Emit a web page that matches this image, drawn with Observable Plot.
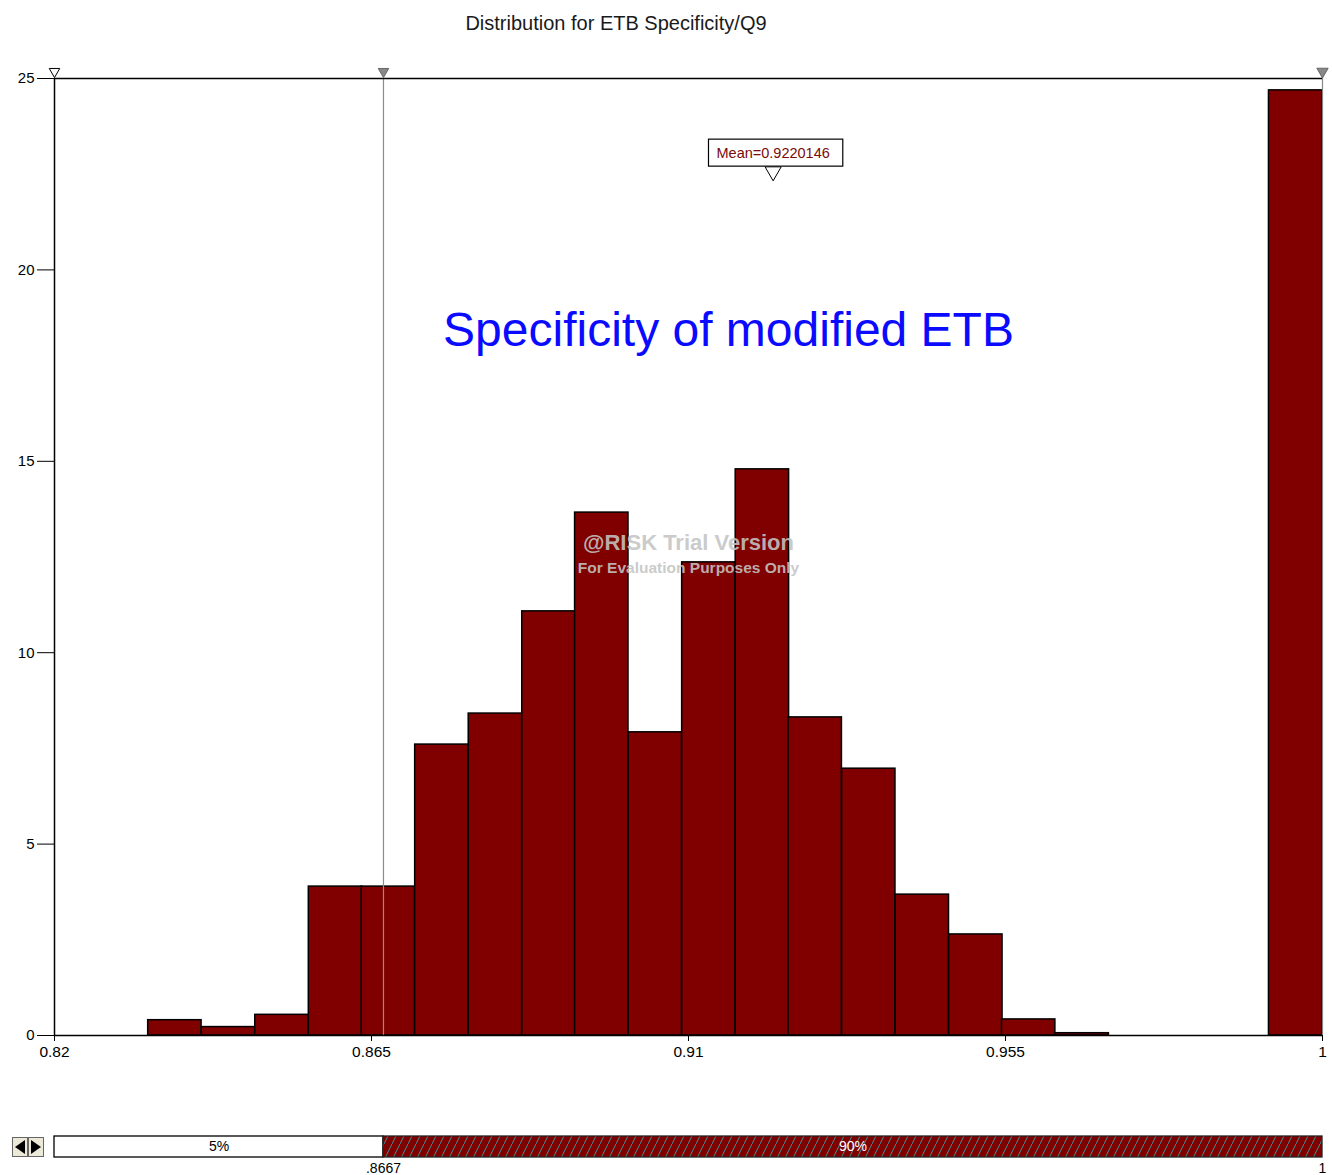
<!DOCTYPE html>
<html>
<head>
<meta charset="utf-8">
<script src="https://cdn.jsdelivr.net/npm/d3@7"></script>
<script src="https://cdn.jsdelivr.net/npm/@observablehq/plot@0.6"></script>
<style>
  html, body { margin: 0; padding: 0; background: #fff; overflow: hidden; }
  #wrap { position: relative; width: 1332px; height: 1175px; font-family: "Liberation Sans", Arial, sans-serif; }
  #title { position: absolute; top: 11px; left: 0; width: 1232px; text-align: center; font-size: 20px; line-height: 24px; color: #1a1a1a; }
  #main { position: absolute; top: 46px; left: 0; }
  #slider { position: absolute; top: 1080px; left: 0; }
  #btns { position: absolute; top: 1137px; left: 12px; width: 32px; height: 20px; }
</style>
</head>
<body>
<div id="wrap">
  <div id="title">Distribution for ETB Specificity/Q9</div>
  <div id="main"></div>
  <div id="slider"></div>
  <div id="btns"><svg width="32" height="20">
    <rect x="0.5" y="0.5" width="15" height="19" fill="#ece9d8" stroke="#666"></rect>
    <rect x="16.5" y="0.5" width="15" height="19" fill="#ece9d8" stroke="#666"></rect>
    <polygon points="3,10 13,3 13,17" fill="#000"></polygon>
    <polygon points="29,10 19,3 19,17" fill="#000"></polygon>
  </svg></div>
</div>
<script>
// ---- data ----
const binLo = [0.8333, 0.8409, 0.8485, 0.8561, 0.8636, 0.8712, 0.8788, 0.8864, 0.8939, 0.9015, 0.9091,
               0.9167, 0.9242, 0.9318, 0.9394, 0.9470, 0.9545, 0.9621, 0.9697, 0.9773, 0.9848, 0.9924];
const binWidth = 0.00758;
const binHeight = [0.40, 0.22, 0.54, 3.89, 3.89, 7.60, 8.41, 11.08, 13.66, 7.92, 12.36,
                   14.79, 8.31, 6.97, 3.68, 2.64, 0.42, 0.06, 0, 0, 0, 24.69];
const xTicks = [0.82, 0.865, 0.91, 0.955, 1];
const xTickLabels = ["0.82", "0.865", "0.91", "0.955", "1"];
const yTicks = [0, 5, 10, 15, 20, 25];
const meanValue = 0.9220146;
const lowerDelimiter = 0.8667;
const upperDelimiter = 1;
const sliderSegments = [
  {lo: 0.82, hi: 0.8667, label: "5%"},
  {lo: 0.8667, hi: 1, label: "90%"}
];
const sliderEnds = [{x: 0.8667, label: ".8667"}, {x: 1, label: "1"}];

const bars = binLo.map((lo, i) => ({lo, hi: lo + binWidth, h: binHeight[i]})).filter(d => d.h > 0);
const font = "'Liberation Sans', Arial, sans-serif";

const main = Plot.plot({
  width: 1332,
  height: 1034,
  marginLeft: 54,
  marginRight: 10,
  marginTop: 32,
  marginBottom: 45,
  style: {fontFamily: font, fontSize: "15px", color: "#000", background: "#fff"},
  x: {domain: [0.82, 1]},
  y: {domain: [0, 25]},
  marks: [
    Plot.rect(bars, {x1: "lo", x2: "hi", y1: () => 0, y2: "h", fill: "#800000", stroke: "#000", strokeWidth: 1.5}),
    Plot.ruleX([lowerDelimiter], {y1: 0, y2: 25, stroke: "#7f9393", strokeWidth: 1.2}),
    Plot.ruleX([upperDelimiter], {y1: 0, y2: 25, stroke: "#888", strokeWidth: 1.2}),
    Plot.ruleX([0.82], {y1: 0, y2: 25, stroke: "#000", strokeWidth: 1.5}),
    Plot.ruleY([25], {x1: 0.82, x2: 1, stroke: "#000", strokeWidth: 1.5}),
    Plot.ruleY([0], {x1: 0.82, x2: 1, stroke: "#000", strokeWidth: 1.5}),
    Plot.axisY({ticks: yTicks, tickSize: 17, tickPadding: 3, fontSize: 15, label: null, tickFormat: d => String(d)}),
    Plot.axisX({ticks: xTicks, tickSize: 6, tickPadding: 4, fontSize: 15.5, label: null,
                tickFormat: d => xTickLabels[xTicks.indexOf(d)]}),
    // delimiter markers on top
    Plot.dot([0.82], {x: d => d, frameAnchor: "top", dy: -7, symbol: "triangle", rotate: 180, r: 3.9,
                      fill: "#fff", stroke: "#000", strokeWidth: 1}),
    Plot.dot([lowerDelimiter], {x: d => d, frameAnchor: "top", dy: -7, symbol: "triangle", rotate: 180, r: 3.9,
                      fill: "#888", stroke: "#666", strokeWidth: 1}),
    Plot.dot([upperDelimiter], {x: d => d, frameAnchor: "top", dy: -7, symbol: "triangle", rotate: 180, r: 4.2,
                      fill: "#888", stroke: "#666", strokeWidth: 1}),
    // mean marker
    Plot.text([meanValue], {x: d => d, text: d => "Mean=" + d, frameAnchor: "top", dy: 75,
                      lineAnchor: "middle", fontSize: 14.5, fill: "#7a0a0a", ariaDescription: "mean-label"}),
    Plot.dot([meanValue], {x: d => d, frameAnchor: "top", dy: 93, symbol: "triangle", rotate: 180, r: 6,
                      fill: "#fff", stroke: "#000", strokeWidth: 1}),
    // annotation
    Plot.text(["Specificity of modified ETB"], {text: d => d, frameAnchor: "top", dx: 40, dy: 252,
                      lineAnchor: "middle", fontSize: 48, fill: "#0a0aff"}),
    // watermark
    Plot.text(["@RISK Trial Version"], {text: d => d, frameAnchor: "top", dy: 464, lineAnchor: "middle",
                      fontSize: 22, fontWeight: "bold", fill: "#c4c4c4", fillOpacity: 0.9}),
    Plot.text(["For Evaluation Purposes Only"], {text: d => d, frameAnchor: "top", dy: 490, lineAnchor: "middle",
                      fontSize: 15.5, fontWeight: "bold", fill: "#c4c4c4", fillOpacity: 0.9})
  ]
});
document.getElementById("main").appendChild(main);

// box behind the mean label
const mt = main.querySelector('g[aria-description="mean-label"] text');
if (mt) {
  const bb = mt.getBBox();
  const r = document.createElementNS("http://www.w3.org/2000/svg", "rect");
  r.setAttribute("x", bb.x - 8);
  r.setAttribute("y", bb.y - 6);
  r.setAttribute("width", bb.width + 21);
  r.setAttribute("height", bb.height + 11);
  r.setAttribute("fill", "#fff");
  r.setAttribute("stroke", "#000");
  r.setAttribute("stroke-width", "1.2");
  const tf = mt.getAttribute("transform");
  if (tf) r.setAttribute("transform", tf);
  mt.parentNode.insertBefore(r, mt);
}

const slider = Plot.plot({
  width: 1332,
  height: 95,
  marginLeft: 54,
  marginRight: 10,
  marginTop: 56,
  marginBottom: 18,
  style: {fontFamily: font, fontSize: "14px", color: "#000", background: "transparent", overflow: "visible"},
  x: {domain: [0.82, 1], axis: null},
  y: {domain: [0, 1], axis: null},
  marks: [
    Plot.rect(sliderSegments, {x1: "lo", x2: "hi", y1: () => 0, y2: () => 1,
      fill: (d, i) => i === 0 ? "#fff" : "url(#hatch)", stroke: (d, i) => i === 0 ? "#000" : "#222", strokeWidth: 1.3}),
    Plot.text(sliderSegments, {x: d => (d.lo + d.hi) / 2, y: () => 0.5, text: "label", fontSize: 14,
      fill: (d, i) => i === 0 ? "#000" : "#fff"}),
    Plot.text(sliderEnds, {x: "x", text: "label", frameAnchor: "bottom", dy: 11, lineAnchor: "middle", fontSize: 14, fill: "#000"})
  ]
});
d3.select(slider).insert("defs", ":first-child").html(
  '<pattern id="hatch" patternUnits="userSpaceOnUse" width="8" height="16">' +
  '<rect width="8" height="16" fill="#800000"></rect>' +
  '<path d="M-2,20 L10,-4" stroke="#3f8f8f" stroke-width="1"></path>' +
  '</pattern>');
document.getElementById("slider").appendChild(slider);
</script>
</body>
</html>
